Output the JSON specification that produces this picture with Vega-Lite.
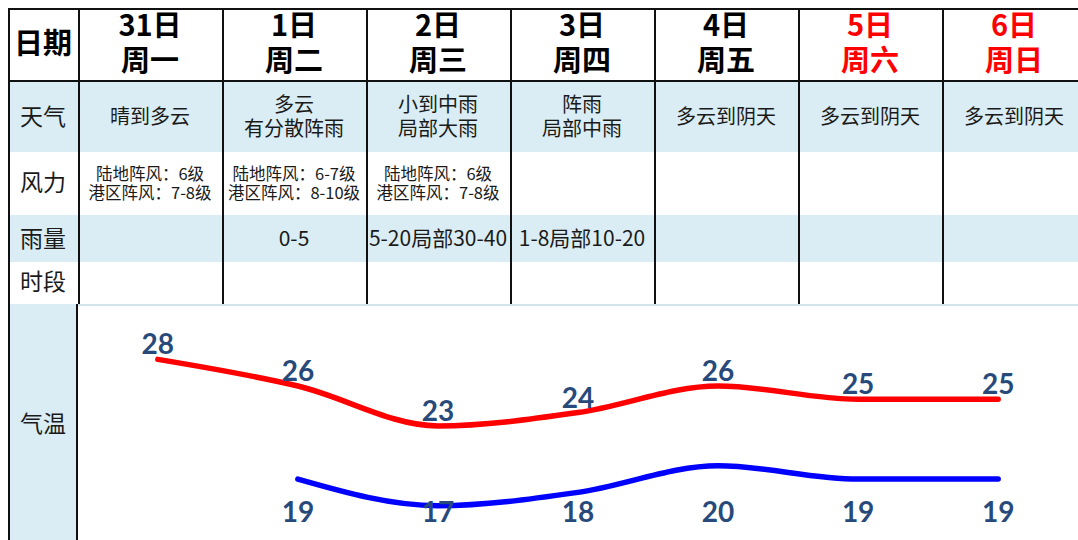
{
  "$schema": "https://vega.github.io/schema/vega-lite/v6.json",
  "padding": {"left": 8, "top": 8, "right": 0, "bottom": 0},
  "background": "white",
  "spacing": 0,
  "config": {
    "view": {"stroke": null},
    "concat": {"spacing": 0},
    "font": "Noto Sans CJK SC"
  },
  "resolve": {"scale": {"x": "independent", "y": "independent", "color": "independent"}},
  "datasets": {
    "days": [
      {"day": "31日", "week": "周一", "kind": "weekday", "weather": "晴到多云", "wind": "陆地阵风：6级\n港区阵风：7-8级", "rain": ""},
      {"day": "1日", "week": "周二", "kind": "weekday", "weather": "多云\n有分散阵雨", "wind": "陆地阵风：6-7级\n港区阵风：8-10级", "rain": "0-5"},
      {"day": "2日", "week": "周三", "kind": "weekday", "weather": "小到中雨\n局部大雨", "wind": "陆地阵风：6级\n港区阵风：7-8级", "rain": "5-20局部30-40"},
      {"day": "3日", "week": "周四", "kind": "weekday", "weather": "阵雨\n局部中雨", "wind": "", "rain": "1-8局部10-20"},
      {"day": "4日", "week": "周五", "kind": "weekday", "weather": "多云到阴天", "wind": "", "rain": ""},
      {"day": "5日", "week": "周六", "kind": "weekend", "weather": "多云到阴天", "wind": "", "rain": ""},
      {"day": "6日", "week": "周日", "kind": "weekend", "weather": "多云到阴天", "wind": "", "rain": ""}
    ],
    "temps": [
      {"day": "31日", "type": "高温", "t": 28},
      {"day": "1日", "type": "高温", "t": 26},
      {"day": "2日", "type": "高温", "t": 23},
      {"day": "3日", "type": "高温", "t": 24},
      {"day": "4日", "type": "高温", "t": 26},
      {"day": "5日", "type": "高温", "t": 25},
      {"day": "6日", "type": "高温", "t": 25},
      {"day": "1日", "type": "低温", "t": 19},
      {"day": "2日", "type": "低温", "t": 17},
      {"day": "3日", "type": "低温", "t": 18},
      {"day": "4日", "type": "低温", "t": 20},
      {"day": "5日", "type": "低温", "t": 19},
      {"day": "6日", "type": "低温", "t": 19}
    ]
  },
  "vconcat": [
    {
      "width": 1070, "height": 2,
      "view": {"fill": "#111111"},
      "data": {"values": [{"sep": ""}]},
      "transform": [{"filter": "false"}],
      "mark": {"type": "text"},
      "encoding": {"text": {"field": "sep"}}
    },
    {
      "hconcat": [
        {
          "width": 70, "height": 70,
          "view": {"fill": "white"},
          "data": {"values": [{"label": "日期"}]},
          "encoding": {"x": {"field": "label", "type": "nominal", "axis": null, "scale": {"paddingInner": 0, "paddingOuter": 0}}},
          "layer": [
            {"mark": {"type": "rule", "color": "#111111", "strokeWidth": 2, "xOffset": 1, "clip": true}, "encoding": {"x": {"field": "label", "type": "nominal", "axis": null, "bandPosition": 0}}},
            {"mark": {"type": "text", "fontSize": 29, "fontWeight": "bold", "color": "#000000"}, "encoding": {"text": {"field": "label"}}}
          ]
        },
        {
          "width": 1000, "height": 70,
          "view": {"fill": "white"},
          "data": {"name": "days"},
          "encoding": {"x": {"field": "day", "type": "nominal", "sort": null, "axis": null, "scale": {"type": "band", "range": [0, 1008], "paddingInner": 0, "paddingOuter": 0}}},
          "layer": [
            {"mark": {"type": "rule", "color": "#111111", "strokeWidth": 2, "xOffset": 1, "clip": true}, "encoding": {"x": {"field": "day", "type": "nominal", "sort": null, "axis": null, "bandPosition": 0}}},
            {"mark": {"type": "text", "fontSize": 29, "fontWeight": "bold", "dy": -18},
             "encoding": {"text": {"field": "day"}, "color": {"field": "kind", "type": "nominal", "legend": null, "scale": {"domain": ["weekday", "weekend"], "range": ["#000000", "#ff0000"]}}}},
            {"mark": {"type": "text", "fontSize": 29, "fontWeight": "bold", "dy": 17},
             "encoding": {"text": {"field": "week"}, "color": {"field": "kind", "type": "nominal", "legend": null, "scale": {"domain": ["weekday", "weekend"], "range": ["#000000", "#ff0000"]}}}}
          ]
        }
      ],
      "spacing": 0, "bounds": "flush"
    },
    {
      "width": 1070, "height": 2,
      "view": {"fill": "#111111"},
      "data": {"values": [{"sep": ""}]},
      "transform": [{"filter": "false"}],
      "mark": {"type": "text"},
      "encoding": {"text": {"field": "sep"}}
    },
    {
      "hconcat": [
        {
          "width": 70, "height": 70,
          "view": {"fill": "#daedf4"},
          "data": {"values": [{"label": "天气"}]},
          "encoding": {"x": {"field": "label", "type": "nominal", "axis": null, "scale": {"paddingInner": 0, "paddingOuter": 0}}},
          "layer": [
            {"mark": {"type": "rule", "color": "#111111", "strokeWidth": 2, "xOffset": 1, "clip": true}, "encoding": {"x": {"field": "label", "type": "nominal", "axis": null, "bandPosition": 0}}},
            {"mark": {"type": "text", "fontSize": 23, "color": "#1a1a1a", "dy": 1}, "encoding": {"text": {"field": "label"}}}
          ]
        },
        {
          "width": 1000, "height": 70,
          "view": {"fill": "#daedf4"},
          "data": {"name": "days"},
          "encoding": {"x": {"field": "day", "type": "nominal", "sort": null, "axis": null, "scale": {"type": "band", "range": [0, 1008], "paddingInner": 0, "paddingOuter": 0}}},
          "layer": [
            {"mark": {"type": "rule", "color": "#111111", "strokeWidth": 2, "xOffset": 1, "clip": true}, "encoding": {"x": {"field": "day", "type": "nominal", "sort": null, "axis": null, "bandPosition": 0}}},
            {"transform": [{"filter": "indexof(datum.weather, '\\n') < 0"}],
             "mark": {"type": "text", "fontSize": 20, "color": "#1a1a1a", "dy": 1}, "encoding": {"text": {"field": "weather"}}},
            {"transform": [{"filter": "indexof(datum.weather, '\\n') >= 0"}],
             "mark": {"type": "text", "fontSize": 20, "color": "#1a1a1a", "lineBreak": "\n", "lineHeight": 24, "dy": -11}, "encoding": {"text": {"field": "weather"}}}
          ]
        }
      ],
      "spacing": 0, "bounds": "flush"
    },
    {
      "hconcat": [
        {
          "width": 70, "height": 63,
          "view": {"fill": "white"},
          "data": {"values": [{"label": "风力"}]},
          "encoding": {"x": {"field": "label", "type": "nominal", "axis": null, "scale": {"paddingInner": 0, "paddingOuter": 0}}},
          "layer": [
            {"mark": {"type": "rule", "color": "#111111", "strokeWidth": 2, "xOffset": 1, "clip": true}, "encoding": {"x": {"field": "label", "type": "nominal", "axis": null, "bandPosition": 0}}},
            {"mark": {"type": "text", "fontSize": 23, "color": "#1a1a1a"}, "encoding": {"text": {"field": "label"}}}
          ]
        },
        {
          "width": 1000, "height": 63,
          "view": {"fill": "white"},
          "data": {"name": "days"},
          "encoding": {"x": {"field": "day", "type": "nominal", "sort": null, "axis": null, "scale": {"type": "band", "range": [0, 1008], "paddingInner": 0, "paddingOuter": 0}}},
          "layer": [
            {"mark": {"type": "rule", "color": "#111111", "strokeWidth": 2, "xOffset": 1, "clip": true}, "encoding": {"x": {"field": "day", "type": "nominal", "sort": null, "axis": null, "bandPosition": 0}}},
            {"mark": {"type": "text", "fontSize": 16.5, "color": "#1a1a1a", "lineBreak": "\n", "lineHeight": 19, "dy": -9}, "encoding": {"text": {"field": "wind"}}}
          ]
        }
      ],
      "spacing": 0, "bounds": "flush"
    },
    {
      "hconcat": [
        {
          "width": 70, "height": 47,
          "view": {"fill": "#daedf4"},
          "data": {"values": [{"label": "雨量"}]},
          "encoding": {"x": {"field": "label", "type": "nominal", "axis": null, "scale": {"paddingInner": 0, "paddingOuter": 0}}},
          "layer": [
            {"mark": {"type": "rule", "color": "#111111", "strokeWidth": 2, "xOffset": 1, "clip": true}, "encoding": {"x": {"field": "label", "type": "nominal", "axis": null, "bandPosition": 0}}},
            {"mark": {"type": "text", "fontSize": 23, "color": "#1a1a1a", "dy": 1}, "encoding": {"text": {"field": "label"}}}
          ]
        },
        {
          "width": 1000, "height": 47,
          "view": {"fill": "#daedf4"},
          "data": {"name": "days"},
          "encoding": {"x": {"field": "day", "type": "nominal", "sort": null, "axis": null, "scale": {"type": "band", "range": [0, 1008], "paddingInner": 0, "paddingOuter": 0}}},
          "layer": [
            {"mark": {"type": "rule", "color": "#111111", "strokeWidth": 2, "xOffset": 1, "clip": true}, "encoding": {"x": {"field": "day", "type": "nominal", "sort": null, "axis": null, "bandPosition": 0}}},
            {"mark": {"type": "text", "fontSize": 21, "color": "#1a1a1a", "dy": 1}, "encoding": {"text": {"field": "rain"}}}
          ]
        }
      ],
      "spacing": 0, "bounds": "flush"
    },
    {
      "hconcat": [
        {
          "width": 70, "height": 42,
          "view": {"fill": "white"},
          "data": {"values": [{"label": "时段"}]},
          "encoding": {"x": {"field": "label", "type": "nominal", "axis": null, "scale": {"paddingInner": 0, "paddingOuter": 0}}},
          "layer": [
            {"mark": {"type": "rule", "color": "#111111", "strokeWidth": 2, "xOffset": 1, "clip": true}, "encoding": {"x": {"field": "label", "type": "nominal", "axis": null, "bandPosition": 0}}},
            {"mark": {"type": "text", "fontSize": 23, "color": "#1a1a1a"}, "encoding": {"text": {"field": "label"}}}
          ]
        },
        {
          "width": 1000, "height": 42,
          "view": {"fill": "white"},
          "data": {"name": "days"},
          "encoding": {"x": {"field": "day", "type": "nominal", "sort": null, "axis": null, "scale": {"type": "band", "range": [0, 1008], "paddingInner": 0, "paddingOuter": 0}}},
          "layer": [
            {"mark": {"type": "rule", "color": "#111111", "strokeWidth": 2, "xOffset": 1, "clip": true}, "encoding": {"x": {"field": "day", "type": "nominal", "sort": null, "axis": null, "bandPosition": 0}}}
          ]
        }
      ],
      "spacing": 0, "bounds": "flush"
    },
    {
      "hconcat": [
        {
          "width": 70, "height": 236,
          "view": {"fill": "#daedf4"},
          "data": {"values": [{"label": "气温"}]},
          "encoding": {"x": {"field": "label", "type": "nominal", "axis": null, "scale": {"paddingInner": 0, "paddingOuter": 0}}},
          "layer": [
            {"mark": {"type": "rule", "color": "#111111", "strokeWidth": 2, "xOffset": 1, "clip": true}, "encoding": {"x": {"field": "label", "type": "nominal", "axis": null, "bandPosition": 0}}},
            {"mark": {"type": "rule", "color": "#111111", "strokeWidth": 2, "xOffset": -1, "clip": true}, "encoding": {"x": {"field": "label", "type": "nominal", "axis": null, "bandPosition": 1}}},
            {"mark": {"type": "text", "fontSize": 23, "color": "#1a1a1a", "dy": 3}, "encoding": {"text": {"field": "label"}}}
          ]
        },
        {
          "width": 1000, "height": 236,
          "view": {"fill": "white"},
          "data": {"name": "temps"},
          "encoding": {
            "x": {"field": "day", "type": "nominal", "axis": null, "scale": {"type": "point", "padding": 0.57, "domain": ["31日", "1日", "2日", "3日", "4日", "5日", "6日"]}},
            "y": {"field": "t", "type": "quantitative", "axis": null, "scale": {"domain": [14.421, 32.165], "nice": false, "zero": false}}
          },
          "layer": [
            {"mark": {"type": "rule", "color": "#d3e4ec", "strokeWidth": 2, "yOffset": 1, "clip": true}, "encoding": {"x": null, "y": {"datum": 32.165, "type": "quantitative"}}},
            {"mark": {"type": "line", "strokeWidth": 5.5, "interpolate": "monotone", "strokeCap": "round"},
             "encoding": {"color": {"field": "type", "type": "nominal", "legend": null, "scale": {"domain": ["高温", "低温"], "range": ["#ff0000", "#0000ff"]}}}},
            {"transform": [{"filter": "datum.type === '高温'"}],
             "mark": {"type": "text", "font": "Lato", "fontWeight": "bold", "fontSize": 28, "color": "#284a7b", "dy": -13},
             "encoding": {"text": {"field": "t"}}},
            {"transform": [{"filter": "datum.type === '低温'"}],
             "mark": {"type": "text", "font": "Lato", "fontWeight": "bold", "fontSize": 28, "color": "#284a7b"},
             "encoding": {"y": {"datum": 16.38, "type": "quantitative"}, "text": {"field": "t"}}}
          ]
        }
      ],
      "spacing": 0, "bounds": "flush"
    }
  ]
}
